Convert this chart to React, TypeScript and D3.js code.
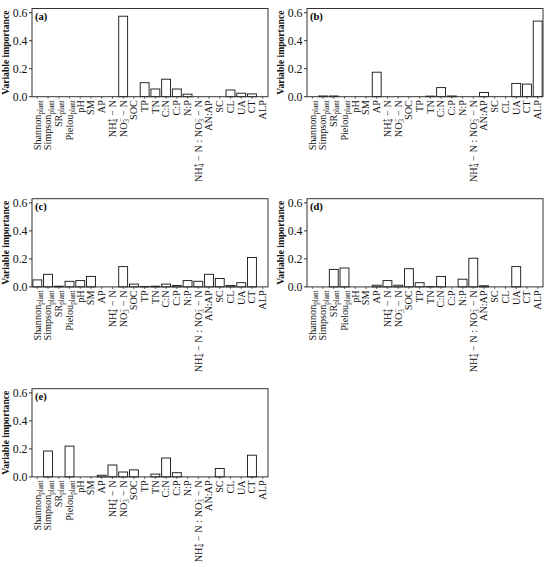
import * as d3 from "d3";

const categories = [
  "Shannon_plant",
  "Simpson_plant",
  "SR_plant",
  "Pielou_plant",
  "pH",
  "SM",
  "AP",
  "NH4",
  "NO3",
  "SOC",
  "TP",
  "TN",
  "C:N",
  "C:P",
  "N:P",
  "NH4:NO3",
  "AN:AP",
  "SC",
  "CL",
  "UA",
  "CT",
  "ALP",
];

const panelLabels = ["(a)", "(b)", "(c)", "(d)", "(e)"];

const valuesA = [0, 0, 0, 0, 0, 0, 0, 0, 0.575, 0, 0.1, 0.055, 0.125, 0.055, 0.018, 0, 0, 0, 0.048, 0.025, 0.02, 0];
const valuesB = [0, 0.005, 0.005, 0, 0, 0, 0.175, 0, 0, 0, 0, 0.004, 0.065, 0.005, 0, 0, 0.03, 0, 0, 0.095, 0.09, 0.54];
const valuesC = [0.05, 0.09, 0.005, 0.04, 0.045, 0.075, 0, 0, 0.145, 0.02, 0.003, 0.005, 0.02, 0.01, 0.045, 0.04, 0.09, 0.06, 0.01, 0.03, 0.21, 0];
const valuesD = [0, 0, 0.125, 0.135, 0, 0, 0.012, 0.045, 0.012, 0.13, 0.03, 0.002, 0.075, 0, 0.055, 0.205, 0.008, 0, 0, 0.145, 0, 0];
const valuesE = [0, 0.185, 0, 0.22, 0, 0, 0.012, 0.085, 0.035, 0.05, 0, 0.02, 0.135, 0.03, 0, 0, 0, 0.06, 0, 0, 0.155, 0];

const yTicks = [0, 0.2, 0.4, 0.6];

const series = [valuesA, valuesB, valuesC, valuesD, valuesE];

const W = 550;
const H = 567;
const plotW = 236;
const plotH = 88.2;
const colX = [32, 307];
const rowY = [8.5, 198.7, 388.7];
const font = "'Liberation Serif', 'Times New Roman', serif";

function CatLabel({ name }: { name: string }) {
  const small = 7.2;
  if (name.endsWith("_plant")) {
    const base = name.replace("_plant", "");
    return (
      <>
        {base}
        <tspan fontSize={small} dy={2.2}>
          plant
        </tspan>
      </>
    );
  }
  const nh4 = (
    <>
      NH
      <tspan fontSize={small} dy={2.4}>
        4
      </tspan>
      <tspan fontSize={small} dx={-3.6} dy={-6}>
        +
      </tspan>
      <tspan dy={3.6}>{" \u2212 N"}</tspan>
    </>
  );
  const no3 = (
    <>
      NO
      <tspan fontSize={small} dy={2.4}>
        3
      </tspan>
      <tspan fontSize={small} dx={-3.6} dy={-6}>
        {"\u2212"}
      </tspan>
      <tspan dy={3.6}>{" \u2212 N"}</tspan>
    </>
  );
  if (name === "NH4") return nh4;
  if (name === "NO3") return no3;
  if (name === "NH4:NO3")
    return (
      <>
        {nh4}
        {" : "}
        {no3}
      </>
    );
  return <>{name}</>;
}

function Panel({ values, label, x0, y0 }: { values: number[]; label: string; x0: number; y0: number }) {
  const x = d3
    .scaleBand<string>()
    .domain(categories)
    .range([x0, x0 + plotW])
    .paddingInner(0.17)
    .paddingOuter(0.08);
  const y = d3.scaleLinear().domain([0, 0.63]).range([y0 + plotH, y0]);
  const bottom = y0 + plotH;
  return (
    <g>
      {categories.map((c, i) => (
        <rect
          key={c}
          x={x(c)}
          y={y(values[i])}
          width={x.bandwidth()}
          height={bottom - y(values[i])}
          fill="#fff"
          stroke="#111"
          strokeWidth={0.9}
        />
      ))}
      <rect x={x0} y={y0} width={plotW} height={plotH} fill="none" stroke="#333" strokeWidth={1} />
      {yTicks.map((t) => (
        <g key={t}>
          <line x1={x0 - 3} x2={x0} y1={y(t)} y2={y(t)} stroke="#333" />
          <text x={x0 - 4.5} y={y(t)} dy="0.35em" textAnchor="end" fontSize={11.8} fill="#111">
            {d3.format(".1f")(t)}
          </text>
        </g>
      ))}
      {categories.map((c) => {
        const cx = (x(c) ?? 0) + x.bandwidth() / 2;
        return (
          <g key={c}>
            <line x1={cx} x2={cx} y1={bottom} y2={bottom + 2} stroke="#333" strokeWidth={0.8} />
            <text
              transform={`translate(${cx},${bottom + 3.5}) rotate(-90)`}
              textAnchor="end"
              dy="0.33em"
              fontSize={10.2}
              fill="#111"
            >
              <CatLabel name={c} />
            </text>
          </g>
        );
      })}
      <text x={x0 + 3} y={y0 + 11} fontSize={10.5} fontWeight="bold" fill="#000">
        {label}
      </text>
      <text
        transform={`translate(${x0 - 23.5},${y0 + plotH / 2}) rotate(-90)`}
        textAnchor="middle"
        fontSize={9.6}
        fontWeight="bold"
        fill="#111"
      >
        Variable importance
      </text>
    </g>
  );
}

export default function App() {
  return (
    <div style={{ position: "absolute", left: 0, top: 0 }}>
      <svg width={W} height={H} style={{ display: "block", fontFamily: font, background: "#fff" }}>
        {series.map((vals, i) => (
          <Panel
            key={i}
            values={vals}
            label={panelLabels[i]}
            x0={colX[i % 2]}
            y0={rowY[Math.floor(i / 2)]}
          />
        ))}
      </svg>
    </div>
  );
}
